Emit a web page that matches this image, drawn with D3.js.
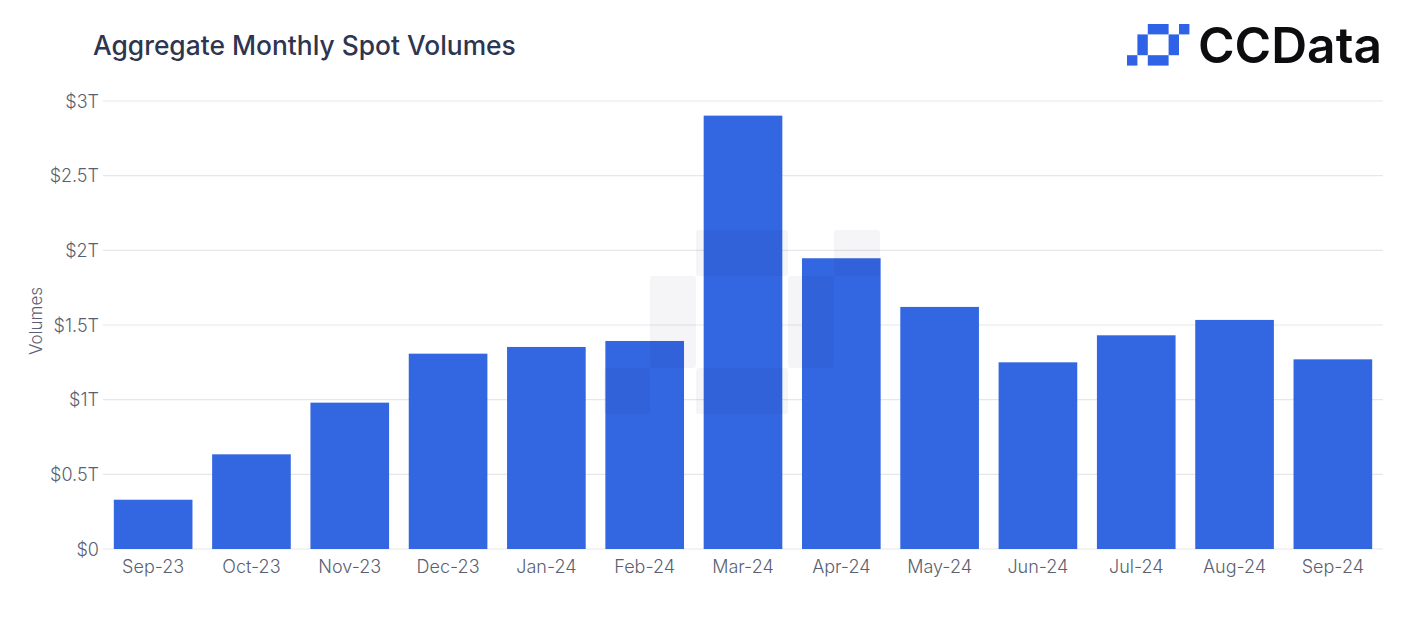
<!DOCTYPE html>
<html>
<head>
<meta charset="utf-8">
<script src="https://cdn.jsdelivr.net/npm/d3@7/dist/d3.min.js"></script>
<style>
  html, body { margin: 0; padding: 0; background: #ffffff; }
  svg { display: block; }
  text { font-family: Inter, "Noto Sans", sans-serif; }
</style>
</head>
<body>
<svg id="chart" width="1418" height="623"></svg>
<script>
// ---- data ----
const months = ["Sep-23","Oct-23","Nov-23","Dec-23","Jan-24","Feb-24","Mar-24","Apr-24","May-24","Jun-24","Jul-24","Aug-24","Sep-24"];
const volumesT = [0.33, 0.634, 0.98, 1.308, 1.353, 1.393, 2.902, 1.947, 1.621, 1.25, 1.431, 1.534, 1.27];
const yTicks = [0, 0.5, 1, 1.5, 2, 2.5, 3];
const yTickLabels = ["$0", "$0.5T", "$1T", "$1.5T", "$2T", "$2.5T", "$3T"];
const titleText = "Aggregate Monthly Spot Volumes";
const yAxisTitle = "Volumes";
const brandText = "CCData";

// ---- layout ----
const plotLeft = 103, plotRight = 1383, plotTop = 101, plotBottom = 549;
const barColor = "#3366e1";
const textColor = "#5a5f72";

const svg = d3.select("#chart");

const x = d3.scaleBand().domain(months).range([plotLeft, plotRight]).paddingInner(0.2).paddingOuter(0.11);
const y = d3.scaleLinear().domain([0, 3]).range([plotBottom, plotTop]);

// gridlines
svg.append("g").selectAll("line").data(yTicks).join("line")
  .attr("x1", plotLeft).attr("x2", plotRight)
  .attr("y1", d => y(d)).attr("y2", d => y(d))
  .attr("stroke", "#e7e7ea").attr("stroke-width", 1.2);

// y axis labels
const yAxis = d3.axisLeft(y).tickValues(yTicks).tickSize(0).tickPadding(3)
  .tickFormat(d => yTickLabels[yTicks.indexOf(d)]);
const gy = svg.append("g").attr("transform", `translate(${plotLeft - 1},0)`).call(yAxis);
gy.select(".domain").remove();
gy.selectAll("text").attr("fill", textColor).style("font-size", "18px").attr("dy", "0.34em")
  .style("font-family", "Inter, sans-serif").style("font-weight", 300);

// bars
svg.append("g").selectAll("rect").data(months).join("rect")
  .attr("x", d => x(d))
  .attr("width", x.bandwidth())
  .attr("y", (d, i) => y(volumesT[i]))
  .attr("height", (d, i) => y(0) - y(volumesT[i]))
  .attr("fill", barColor);

// x axis labels
const xAxis = d3.axisBottom(x).tickSize(0).tickPadding(8);
const gx = svg.append("g").attr("transform", `translate(0,${plotBottom})`).call(xAxis);
gx.select(".domain").remove();
gx.selectAll("text").attr("fill", textColor).style("font-size", "18px")
  .style("font-family", "Inter, sans-serif").style("font-weight", 300).attr("dy", "0.9em");

// faint watermark (brand icon), drawn over bars
const wmUnit = 46, wmX = 604, wmY = 230;
const iconBlocks = [
  [5, 0, 1, 1], [2, 0, 2, 1], [1, 1, 1, 2], [4, 1, 1, 2], [2, 3, 2, 1], [0, 3, 1, 1]
];
svg.append("g").selectAll("rect").data(iconBlocks).join("rect")
  .attr("x", d => wmX + d[0] * wmUnit).attr("y", d => wmY + d[1] * wmUnit)
  .attr("width", d => d[2] * wmUnit).attr("height", d => d[3] * wmUnit)
  .attr("rx", 3)
  .attr("fill", "#1a1f3a").attr("opacity", 0.045);

// y axis title
svg.append("text")
  .attr("transform", "translate(42,321) rotate(-90)")
  .attr("text-anchor", "middle")
  .attr("fill", textColor)
  .style("font-size", "17px").style("font-weight", 300)
  .text(yAxisTitle);

function fitWidth(t, target) {
  const w = t.node().getComputedTextLength();
  const fs = parseFloat(t.style("font-size"));
  t.style("font-size", (fs * target / w).toFixed(2) + "px");
}

// title
const title = svg.append("text")
  .attr("x", 93).attr("y", 55)
  .attr("fill", "#2e3550")
  .style("font-size", "25px").style("font-weight", 500)
  .text(titleText);
fitWidth(title, 423);

// logo
const lu = 10.4, lx = 1127, ly = 24;
svg.append("g").selectAll("rect").data(iconBlocks).join("rect")
  .attr("x", d => lx + d[0] * lu).attr("y", d => ly + d[1] * lu)
  .attr("width", d => d[2] * lu).attr("height", d => d[3] * lu)
  .attr("fill", "#2f62e6");
const brand = svg.append("text")
  .attr("x", 1198).attr("y", 63)
  .attr("fill", "#0d0d10")
  .style("font-size", "46px").style("font-weight", 600)
  .text(brandText);
fitWidth(brand, 184);
</script>
</body>
</html>
